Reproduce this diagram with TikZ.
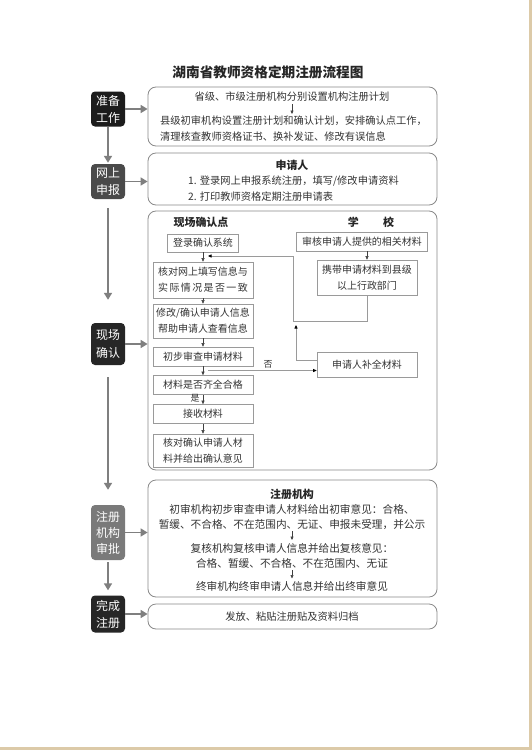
\documentclass[tikz,border=0pt]{standalone}
\usepackage{fontspec}
\setmainfont{Noto Sans CJK SC}
\usetikzlibrary{arrows.meta,calc}
\definecolor{beige}{HTML}{DCCAA8}
\definecolor{txt}{HTML}{333333}
\definecolor{bord}{HTML}{8A8A8A}
\definecolor{ibord}{HTML}{9A9A9A}
\definecolor{garc}{HTML}{7F7F7F}
\definecolor{labA}{HTML}{1C1C1C}
\definecolor{labB}{HTML}{4A4A4A}
\definecolor{labC}{HTML}{262626}
\definecolor{labD}{HTML}{7A7A7A}
\tikzset{
  lab/.style={fill=#1, rounded corners=4bp, minimum width=34bp, text=white, align=center, inner sep=0pt},
  big/.style={draw=bord, rounded corners=8bp, line width=0.8bp, minimum width=289bp, inner sep=0pt},
  ib/.style={draw=ibord, line width=0.6bp, minimum width=100bp, align=center, inner sep=0pt, font=\fontsize{10}{16}\selectfont, text=txt},
  body/.style={inner sep=0pt, text=txt, font=\fontsize{10.3}{16}\selectfont},
  bodyb/.style={inner sep=0pt, text=txt, font=\fontsize{10.7}{16}\selectfont},
  head/.style={inner sep=0pt, text=black!85, font=\bfseries\fontsize{11}{13}\selectfont},
  garr/.style={draw=garc, line width=1.6bp, -{Triangle[length=7bp,width=8bp]}},
  tarr/.style={draw=black!75, line width=0.5bp, -{Triangle[length=3.5bp,width=3bp]}},
  larr/.style={draw=ibord, line width=0.7bp, -{Triangle[length=3.5bp,width=3bp,color=black]}},
}
\begin{document}
\begin{tikzpicture}[x=1bp,y=-1bp]
\useasboundingbox (0,0) rectangle (532,750);
\fill[white] (0,0) rectangle (532,750);
\fill[beige] (529,0) rectangle (532,750);
\fill[beige] (0,747) rectangle (532,750);

% title
\node[inner sep=0pt, text=black!85, font=\bfseries\fontsize{13.7}{16}\selectfont] (title) at (268,72) {湖南省教师资格定期注册流程图};

% left labels
\node[lab=labA, minimum height=35bp, font=\fontsize{12}{17}\selectfont] (p1) at (108,109) {准备\\工作};
\node[lab=labB, minimum height=35bp, font=\fontsize{12}{17}\selectfont] (p2) at (108,181.5) {网上\\申报};
\node[lab=labC, minimum height=42bp, font=\fontsize{12}{19}\selectfont] (p3) at (108,344) {现场\\确认};
\node[lab=labD, minimum height=55bp, font=\fontsize{12}{16}\selectfont] (p4) at (108,532.5) {注册\\机构\\审批};
\node[lab=labC, minimum height=37bp, font=\fontsize{12}{17}\selectfont] (p5) at (108,614) {完成\\注册};

% big boxes
\node[big, minimum height=59bp] (b1) at (292.5,116.5) {};
\node[big, minimum height=52bp] (b2) at (292.5,179) {};
\node[big, minimum height=259bp] (b3) at (292.5,340.5) {};
\node[big, minimum height=117bp] (b4) at (292.5,538.5) {};
\node[big, minimum height=25bp] (b5) at (292.5,616.5) {};

% label connectors
\foreach \p/\b in {p1/b1,p2/b2,p3/b3,p4/b4,p5/b5}
  \draw[garr] (\p.east) -- (\p.east -| \b.west);
\draw[garr, shorten >=1bp] (p1.south) -- (p2.north);
\draw[garr, shorten <=9bp, shorten >=23bp] (p2.south) -- (p3.north);
\draw[garr, shorten <=12bp, shorten >=15bp] (p3.south) -- (p4.north);
\draw[garr, shorten <=2bp, shorten >=5bp] (p4.south) -- (p5.north);

% box 1
\node[body] (t11) at (292,97) {省级、市级注册机构分别设置机构注册计划};
\node[body, anchor=west, align=left] (t12) at (160,129) {县级初审机构设置注册计划和确认计划，安排确认点工作，\\清理核查教师资格证书、换补发证、修改有误信息};
\coordinate (a1s) at (292,104);
\coordinate (a1e) at (292,114);
\draw[tarr] (a1s) -- (a1e);

% box 2
\node[head] (h2) at (292,165) {申请人};
\node[body, anchor=west, align=left] (t21) at (188,188.5) {1. 登录网上申报系统注册，填写/修改申请资料\\2. 打印教师资格定期注册申请表};

% box 3
\node[head] (h31) at (201,222.5) {现场确认点};
\node[head] (h32) at (371,222.5) {学\hspace{2.2em}校};
\node[ib, minimum width=71bp, minimum height=18bp] (n1) at (203,243) {登录确认系统};
\node[ib, minimum height=36bp] (n2) at (203,280) {核对网上填写信息与\\\hbox to 9em{实\hfill 际\hfill 情\hfill 况\hfill 是\hfill 否\hfill 一\hfill 致}};
\node[ib, minimum height=34bp] (n3) at (203,321) {修改/确认申请人信息\\帮助申请人查看信息};
\node[ib, minimum height=19bp] (n4) at (203,356.5) {初步审查申请材料};
\node[ib, minimum height=19bp] (n5) at (203,385) {材料是否齐全合格};
\node[ib, minimum height=19bp] (n6) at (203,414) {接收材料};
\node[ib, minimum height=33bp] (n7) at (203,450.5) {核对确认申请人材\\料并给出确认意见};
\node[ib, minimum width=131bp, minimum height=19bp] (s1) at (362,241.5) {审核申请人提供的相关材料};
\node[ib, minimum height=35bp] (s2) at (367,277.5) {携带申请材料到县级\\以上行政部门};
\node[ib, minimum height=25bp] (s3) at (367,365) {申请人补全材料};

\foreach \a/\b in {n1/n2,n2/n3,n3/n4,n4/n5,n5/n6,n6/n7}
  \draw[tarr] (\a.south) -- (\b.north);
\draw[tarr] (s1.south -| s2) -- (s2.north);

\coordinate (lp1) at (293,321);
\coordinate (fb) at (208,256);
\draw[larr] (s2.south) |- (lp1) |- (fb);
\coordinate (up) at (296,325);
\draw[larr] ([yshift=5bp]s3.west) -| (up);
\coordinate (fo) at (208,370.5);
\draw[larr] (fo) -- (fo -| s3.west);
\node[inner sep=0pt, text=txt, font=\fontsize{9}{10}\selectfont] (lno) at (268,364) {否};
\node[inner sep=0pt, text=txt, font=\fontsize{9}{10}\selectfont] (lyes) at (195,398.5) {是};

% box 4
\node[head] (h4) at (292,494) {注册机构};
\node[bodyb] (t41) at (292,509) {初审机构初步审查申请人材料给出初审意见：合格、};
\node[bodyb] (t42) at (292,524.5) {暂缓、不合格、不在范围内、无证、申报未受理，并公示};
\node[bodyb] (t43) at (292,548) {复核机构复核申请人信息并给出复核意见：};
\node[bodyb] (t44) at (292,563.5) {合格、暂缓、不合格、不在范围内、无证};
\node[bodyb] (t45) at (292,586) {终审机构终审申请人信息并给出终审意见};
\coordinate (a4s) at (292,531);
\coordinate (a4e) at (292,540);
\coordinate (a5s) at (292,570);
\coordinate (a5e) at (292,578.5);
\draw[tarr] (a4s) -- (a4e);
\draw[tarr] (a5s) -- (a5e);

% box 5
\node[body] (t5) at (292,617) {发放、粘贴注册贴及资料归档};
\end{tikzpicture}
\end{document}
